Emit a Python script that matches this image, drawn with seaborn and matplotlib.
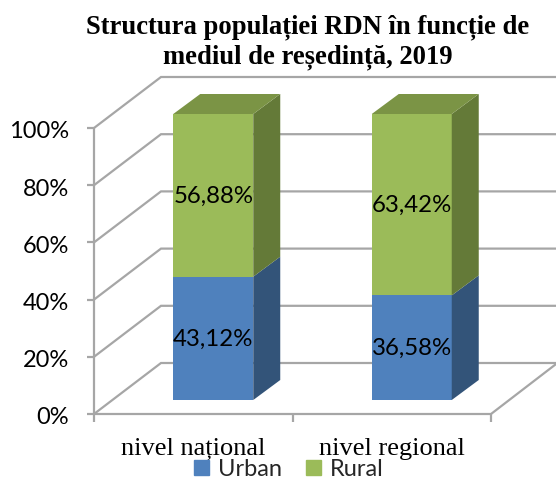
import matplotlib
matplotlib.use('Agg')
import matplotlib.pyplot as plt
from matplotlib.patches import Polygon, Patch
from matplotlib.transforms import Affine2D
import pandas as pd
import seaborn as sns

categories = ['nivel național', 'nivel regional']
urban = [43.12, 36.58]
rural = [56.88, 63.42]
urban_labels = ['43,12%', '36,58%']
rural_labels = ['56,88%', '63,42%']
yticks = [0, 20, 40, 60, 80, 100]

grid_color = '#a6a6a6'
urban_front, urban_side, urban_top = '#4f81bd', '#335479', '#3f6797'
rural_front, rural_side, rural_top = '#9bbb59', '#647a38', '#7b9445'

sns.set_theme(style='white')
plt.rcParams['font.family'] = ['Lato', 'DejaVu Sans']

W, H = 556, 479
fig = plt.figure(figsize=(W / 100, H / 100), dpi=100)
ax = fig.add_axes([94 / W, (H - 414) / H, 397 / W, 286 / H])

df = pd.DataFrame({'cat': categories, 'Urban': urban, 'Rural': rural})
total = df['Urban'] + df['Rural']

# shift of the bars from the axis plane, and depth of the fake 3d
bar_shift = (20, 14)
bar_depth = (27, 20)
wall_depth = (67, 51)

sns.barplot(data=df, x='cat', y=total, color=rural_front, width=0.403, ax=ax, zorder=3, saturation=1)
sns.barplot(data=df, x='cat', y='Urban', color=urban_front, width=0.403, ax=ax, zorder=3, saturation=1)
ax.set_xlim(-0.5, 1.5)
ax.set_ylim(0, 100)
ax.set_xlabel('')
ax.set_ylabel('')
sns.despine(ax=ax, top=True, right=True, left=True, bottom=True)

shift = ax.transData + Affine2D().translate(*bar_shift)
for p in ax.patches:
    p.set_transform(shift)
    p.set_clip_on(False)
    p.set_linewidth(0)


def px(x, y, off=(0, 0)):
    a, b = ax.transData.transform((x, y))
    return a + off[0], b + off[1]


def add_poly(points, color, z):
    ax.add_patch(Polygon(points, closed=True, facecolor=color, edgecolor='none',
                         transform=None, clip_on=False, zorder=z))


def grid_line(points, z=1, lw=1.6):
    xs, ys = zip(*points)
    ax.plot(xs, ys, color=grid_color, lw=lw, transform=None, clip_on=False, zorder=z,
            solid_capstyle='butt', solid_joinstyle='miter')


# walls and floor
for t in yticks:
    a = px(-0.5, t)
    b = px(-0.5, t, wall_depth)
    grid_line([a, b, (W + 5, b[1])])
grid_line([px(-0.5, 0), px(-0.5, 100)])
grid_line([px(-0.5, 0), px(1.5, 0), px(1.5, 0, (wall_depth[0] + 2, wall_depth[1] + 2))])
for t in yticks:
    a = px(-0.5, t)
    grid_line([a, (a[0] - 7, a[1])])
for x in [-0.5, 0.5, 1.5]:
    a = px(x, 0)
    grid_line([a, (a[0], a[1] - 8)])

# side and top faces of the bars
hw = 0.403 / 2
for i in range(len(categories)):
    sx = i + hw
    lx = i - hw
    base = bar_shift
    back = (bar_shift[0] + bar_depth[0], bar_shift[1] + bar_depth[1])
    add_poly([px(sx, 0, base), px(sx, urban[i], base), px(sx, urban[i], back), px(sx, 0, back)], urban_side, 4)
    add_poly([px(sx, urban[i], base), px(sx, total[i], base), px(sx, total[i], back), px(sx, urban[i], back)], rural_side, 4)
    add_poly([px(lx, total[i], base), px(sx, total[i], base), px(sx, total[i], back), px(lx, total[i], back)], rural_top, 4)

# value labels
text_shift = ax.transData + Affine2D().translate(bar_shift[0], bar_shift[1] - 1)
for i in range(len(categories)):
    ax.text(i, urban[i] / 2, urban_labels[i], transform=text_shift, ha='center', va='center',
            fontsize=17.3, color='black', zorder=6)
    ax.text(i, urban[i] + rural[i] / 2, rural_labels[i], transform=text_shift, ha='center', va='center',
            fontsize=17.3, color='black', zorder=6)

ax.set_yticks(yticks)
ax.set_yticklabels([f'{t}%' for t in yticks], fontsize=17, color='black')
ax.tick_params(axis='y', length=0, pad=18)
ax.set_xticks(range(len(categories)))
ax.set_xticklabels(categories, fontsize=19, family='Liberation Serif', color='black')
ax.tick_params(axis='x', length=0, pad=17)
for lab in ax.get_yticklabels():
    lab.set_transform(lab.get_transform() + Affine2D().translate(0, -2))

fig.text(308 / W, 1 - 27 / H, 'Structura populației RDN în funcție de', family='Liberation Serif',
         fontweight='bold', fontsize=19.2, ha='center', va='center', color='black')
fig.text(308 / W, 1 - 57 / H, 'mediul de reședință, 2019', family='Liberation Serif',
         fontweight='bold', fontsize=19.2, ha='center', va='center', color='black')

handles = [Patch(color=urban_front, label='Urban'), Patch(color=rural_front, label='Rural')]
fig.legend(handles=handles, loc='center', bbox_to_anchor=(289 / W, 1 - 469 / H), ncol=2, frameon=False,
           fontsize=17, handlelength=0.62, handleheight=0.62, columnspacing=1.0, handletextpad=0.4,
           borderpad=0, borderaxespad=0)

fig.savefig('out.png', dpi=100, facecolor='white')
